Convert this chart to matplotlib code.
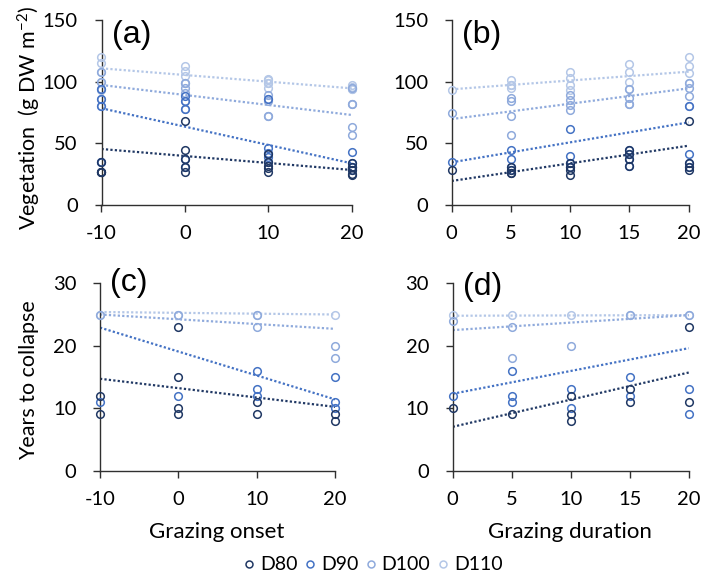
import matplotlib
matplotlib.use("Agg")
import matplotlib.pyplot as plt
from matplotlib.lines import Line2D

plt.rcParams['font.family'] = ['Lato', 'DejaVu Sans']
plt.rcParams['mathtext.default'] = 'regular'
plt.rcParams['axes.unicode_minus'] = False

series = ["D80", "D90", "D100", "D110"]
colors = ["#203864", "#4472C4", "#8FAADC", "#B4C7E7"]

# ---- Panel (a): vegetation vs grazing onset
a_x = [-10, 0, 10, 20]
a_D110 = [[120, 115, 108, 100, 93], [113, 109, 105, 99, 99], [102, 101, 99, 99, 95], [97, 96, 95, 94, 94]]
a_D100 = [[108, 100, 94, 86, 80], [99, 95, 91, 84, 78], [89, 86, 84, 72, 72], [95, 82, 82, 63, 57]]
a_D90 = [[94, 86, 80, 35, 35], [88, 84, 78, 37, 31], [86, 46, 42, 39, 35], [43, 34, 31, 31, 28]]
a_D80 = [[35, 27, 27, 27, 27], [68, 45, 37, 31, 27], [41, 35, 32, 30, 27], [34, 31, 28, 25, 24]]
a_trend_D110 = [110.8, 94.6]
a_trend_D100 = [97.3, 73.0]
a_trend_D90 = [78.4, 33.8]
a_trend_D80 = [45.4, 28.4]

# ---- Panel (b): vegetation vs grazing duration
b_x = [0, 5, 10, 15, 20]
b_D110 = [[93], [101, 97, 95, 97], [108, 103, 97, 93], [114, 108, 100, 94], [120, 113, 107, 99]]
b_D100 = [[75], [87, 84, 72, 57], [89, 85, 81, 77], [94, 87, 82, 82], [99, 95, 88, 80]]
b_D90 = [[35], [45, 37, 31, 28], [62, 40, 34, 31], [45, 41, 37, 32], [80, 41, 34, 31]]
b_D80 = [[28], [31, 28, 26, 26], [34, 31, 28, 24], [45, 41, 37, 32], [68, 34, 31, 28]]
b_trend_D110 = [93.8, 108.1]
b_trend_D100 = [69.7, 94.6]
b_trend_D90 = [34.6, 67.0]
b_trend_D80 = [19.5, 48.1]

# ---- Panel (c): years to collapse vs grazing onset
c_x = [-10, 0, 10, 20]
c_D110 = [[25], [25], [25], [25]]
c_D100 = [[25], [25], [23, 25], [20, 18]]
c_D90 = [[11], [12], [16, 13, 12], [15, 11, 10]]
c_D80 = [[12, 9], [23, 15, 10, 9], [11, 9], [9, 8]]
c_trend_D110 = [25.4, 25.0]
c_trend_D100 = [25.0, 22.7]
c_trend_D90 = [22.9, 11.4]
c_trend_D80 = [14.7, 10.2]

# ---- Panel (d): years to collapse vs grazing duration
d_x = [0, 5, 10, 15, 20]
d_D110 = [[25], [25], [25], [25], [25]]
d_D100 = [[24], [23, 18], [20], [25], [25]]
d_D90 = [[12], [16, 12, 11], [13, 10], [15, 12], [13, 9]]
d_D80 = [[10], [9], [12, 9, 8], [13, 11], [23, 11]]
d_trend_D110 = [24.8, 24.9]
d_trend_D100 = [22.5, 24.9]
d_trend_D90 = [12.3, 19.6]
d_trend_D80 = [7.0, 15.7]

a_yticks = [0, 50, 100, 150]
c_yticks = [0, 10, 20, 30]

W, H = 702, 581
fig = plt.figure(figsize=(W / 100, H / 100), dpi=100)

def px_axes(l, r, t, b):
    return fig.add_axes([l / W, 1 - b / H, (r - l) / W, (b - t) / H])

ax_a = px_axes(101.5, 351.7, 20, 205)
ax_b = px_axes(451.7, 688.7, 20, 205)
ax_c = px_axes(100.0, 335.0, 283.3, 470.5)
ax_d = px_axes(452.7, 688.7, 283.3, 470.5)

panels = [
    (ax_a, a_x, [a_D80, a_D90, a_D100, a_D110], [a_trend_D80, a_trend_D90, a_trend_D100, a_trend_D110], (-10, 20), a_x, (0, 150), a_yticks, "(a)", 0),
    (ax_b, b_x, [b_D80, b_D90, b_D100, b_D110], [b_trend_D80, b_trend_D90, b_trend_D100, b_trend_D110], (0, 20), b_x, (0, 150), a_yticks, "(b)", 0),
    (ax_c, c_x, [c_D80, c_D90, c_D100, c_D110], [c_trend_D80, c_trend_D90, c_trend_D100, c_trend_D110], (-10, 20), c_x, (0, 30), c_yticks, "(c)", 15),
    (ax_d, d_x, [d_D80, d_D90, d_D100, d_D110], [d_trend_D80, d_trend_D90, d_trend_D100, d_trend_D110], (0, 20), d_x, (0, 30), c_yticks, "(d)", 11),
]

for ax, xs, groups, trends, xlim, xt, ylim, yt, lab, lab_up in panels:
    for s_idx in range(3, -1, -1):
        grp = groups[s_idx]
        px, py = [], []
        for xv, vals in zip(xs, grp):
            for v in vals:
                px.append(xv)
                py.append(v)
        ax.plot(px, py, linestyle='none', marker='o', markersize=5.5,
                markerfacecolor='none', markeredgecolor=colors[s_idx],
                markeredgewidth=1.1, clip_on=False, zorder=3)
    for s_idx in range(3, -1, -1):
        ax.plot([xlim[0], xlim[1]], trends[s_idx], linestyle=(0, (1, 1)),
                linewidth=1.6, color=colors[s_idx], zorder=2)
    ax.set_xlim(*xlim)
    ax.set_ylim(*ylim)
    ax.set_xticks(xt)
    ax.set_yticks(yt)
    for sp in ['top', 'right']:
        ax.spines[sp].set_visible(False)
    for sp in ['left', 'bottom']:
        ax.spines[sp].set_color('#303030')
        ax.spines[sp].set_linewidth(1.0)
    ax.tick_params(axis='both', direction='out', length=5, width=1.0,
                   color='#303030', labelsize=14.5)
    ax.tick_params(axis='x', pad=9.5)
    ax.tick_params(axis='y', pad=12)
    bb = ax.get_position()
    fig.text(bb.x0 + 10 / W, bb.y1 + lab_up / H, lab, fontsize=23,
             family=['Liberation Sans'], ha='left', va='top')

fig.text(29 / W, 1 - 118 / H, "Vegetation  (g DW m$^{-2}$)", rotation=90,
         ha='center', va='center', fontsize=15.5)
fig.text(29 / W, 1 - 380 / H, "Years to collapse", rotation=90,
         ha='center', va='center', fontsize=15.5)
fig.text(217 / W, 1 - 532 / H, "Grazing onset", ha='center', va='center', fontsize=16)
fig.text(570 / W, 1 - 532 / H, "Grazing duration", ha='center', va='center', fontsize=16)

handles = [Line2D([], [], linestyle='none', marker='o', markersize=5,
                  markerfacecolor='none', markeredgecolor=c, markeredgewidth=1.1)
           for c in colors]
fig.legend(handles, series, loc='center', bbox_to_anchor=(374 / W, 1 - 565 / H),
           ncol=4, frameon=False, fontsize=14, handlelength=0.4,
           handletextpad=0.35, columnspacing=0.45, borderpad=0)

fig.savefig("out.png", dpi=100)
